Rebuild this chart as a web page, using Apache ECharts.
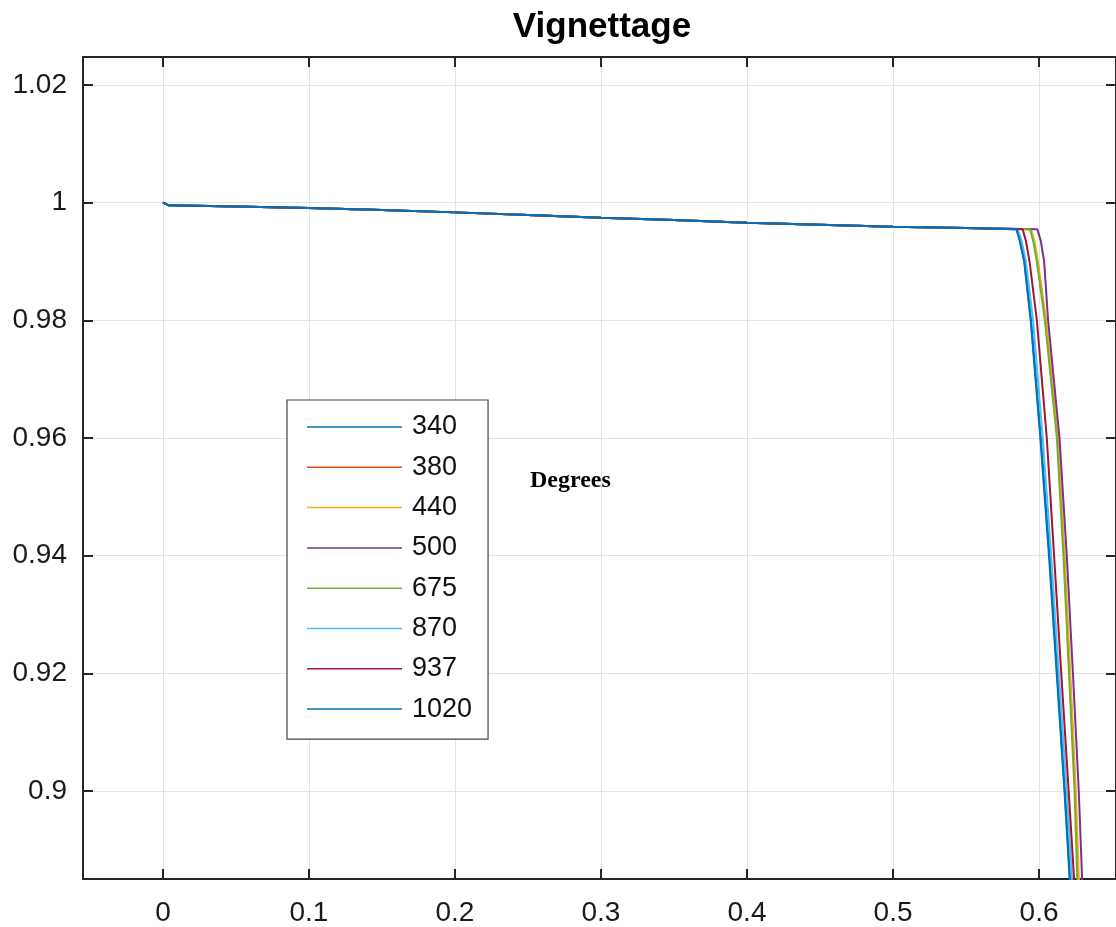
<!DOCTYPE html>
<html>
<head>
<meta charset="utf-8">
<script src="https://cdn.jsdelivr.net/npm/echarts@6/dist/echarts.min.js"></script>
<style>
  html, body { margin: 0; padding: 0; background: #fff; }
  #chart { width: 1116px; height: 927px; }
</style>
</head>
<body>
<div id="chart"></div>
<script>
// x ticks / y ticks as drawn on the figure
const xTicks = [0, 0.1, 0.2, 0.3, 0.4, 0.5, 0.6]
const yTicks = [0.9, 0.92, 0.94, 0.96, 0.98, 1, 1.02]

// common slow fall-off shared by every wavelength
const flatX = [0, 0.004, 0.05, 0.1, 0.15, 0.2, 0.25, 0.3, 0.35, 0.4, 0.45, 0.5, 0.55]
const flatY = [1.0, 0.99955, 0.99935, 0.9991, 0.99875, 0.99835, 0.9979, 0.99745, 0.99705, 0.9966, 0.99625, 0.99592, 0.9957]

// steep edge: y levels and the x where each curve crosses them
const dropY = [0.9955, 0.9935, 0.99, 0.98, 0.96, 0.94, 0.92, 0.90, 0.885, 0.87]
const drop340 = [0.5847, 0.5870, 0.5900, 0.5945, 0.6012, 0.6072, 0.6124, 0.6177, 0.6212, 0.6252]
const drop380 = [0.5942, 0.5964, 0.5989, 0.6044, 0.6126, 0.6171, 0.6210, 0.6248, 0.6268, 0.6300]
const drop440 = [0.5946, 0.5968, 0.5993, 0.6048, 0.6130, 0.6175, 0.6214, 0.6252, 0.6273, 0.6305]
const drop500 = [0.5988, 0.6012, 0.6035, 0.6062, 0.6140, 0.6190, 0.6232, 0.6272, 0.6295, 0.6325]
const drop675 = [0.5938, 0.5960, 0.5985, 0.6040, 0.6122, 0.6167, 0.6205, 0.6243, 0.6262, 0.6295]
const drop870 = [0.5852, 0.5880, 0.5910, 0.5959, 0.6025, 0.6083, 0.6135, 0.6189, 0.6225, 0.6265]
const drop937 = [0.5888, 0.5910, 0.5935, 0.5985, 0.6053, 0.6103, 0.6152, 0.6203, 0.6240, 0.6278]
const drop1020 = [0.5845, 0.5868, 0.5898, 0.5943, 0.6009, 0.6068, 0.6121, 0.6174, 0.6210, 0.6250]

const names = ['340', '380', '440', '500', '675', '870', '937', '1020']
const drops = [drop340, drop380, drop440, drop500, drop675, drop870, drop937, drop1020]
const colors = ['#0072BD', '#D95319', '#EDB120', '#7E2F8E', '#77AC30', '#4DBEEE', '#A2142F', '#0072BD']

const AXIS_COLOR = '#262626'
const FONT = '"Liberation Sans", Arial, Helvetica, sans-serif'

const buildData = (dropX) => {
  const pts = flatX.map((x, i) => [x, flatY[i]])
  dropX.forEach((x, i) => pts.push([x, dropY[i]]))
  return pts
}

const xRange = { min: -0.05473, max: 0.6527 }
const yRange = { min: 0.88504, max: 1.02476 }

const axisLine = { show: true, onZero: false, lineStyle: { color: AXIS_COLOR, width: 2 } }
const tickStyle = (values) => ({
  show: true,
  inside: true,
  length: 10,
  customValues: values,
  lineStyle: { color: AXIS_COLOR, width: 2 }
})

const chart = echarts.init(document.getElementById('chart'))

chart.setOption({
  animation: false,
  backgroundColor: '#ffffff',
  grid: { left: 83, top: 57, width: 1034, height: 822, containLabel: false },
  xAxis: [
    {
      type: 'value',
      position: 'bottom',
      ...xRange,
      axisLine,
      axisTick: tickStyle(xTicks),
      axisLabel: {
        customValues: xTicks,
        color: '#1a1a1a',
        fontSize: 28,
        fontFamily: FONT,
        margin: 20
      },
      splitLine: { show: true, lineStyle: { color: '#e3e3e3', width: 1 } }
    },
    {
      type: 'value',
      position: 'top',
      ...xRange,
      axisLine,
      axisTick: tickStyle(xTicks),
      axisLabel: { show: false },
      splitLine: { show: false }
    }
  ],
  yAxis: [
    {
      type: 'value',
      position: 'left',
      ...yRange,
      axisLine,
      axisTick: tickStyle(yTicks),
      axisLabel: {
        customValues: yTicks,
        color: '#1a1a1a',
        fontSize: 28,
        fontFamily: FONT,
        margin: 16
      },
      splitLine: { show: true, lineStyle: { color: '#e3e3e3', width: 1 } }
    },
    {
      type: 'value',
      position: 'right',
      ...yRange,
      axisLine,
      axisTick: tickStyle(yTicks),
      axisLabel: { show: false },
      splitLine: { show: false }
    }
  ],
  legend: {
    orient: 'vertical',
    left: 287,
    top: 400,
    icon: 'rect',
    itemWidth: 95,
    itemHeight: 1.5,
    itemGap: 10.3,
    selectedMode: false,
    padding: [12, 16, 15, 20],
    backgroundColor: '#ffffff',
    borderColor: '#444444',
    borderWidth: 1.2,
    textStyle: {
      color: '#111111',
      fontSize: 27,
      lineHeight: 30,
      fontFamily: FONT,
      padding: [0, 0, 0, 5]
    },
    data: names
  },
  graphic: [
    {
      type: 'text',
      x: 602,
      y: 27,
      style: {
        text: 'Vignettage',
        align: 'center',
        verticalAlign: 'middle',
        fill: '#000000',
        font: 'bold 35px ' + FONT
      }
    },
    {
      type: 'text',
      x: 530,
      y: 481,
      z: 10,
      style: {
        text: 'Degrees',
        align: 'left',
        verticalAlign: 'middle',
        fill: '#000000',
        font: 'bold 24px "Liberation Serif", "DejaVu Serif", serif'
      }
    }
  ],
  series: names.map((name, i) => ({
    name,
    type: 'line',
    xAxisIndex: 0,
    yAxisIndex: 0,
    showSymbol: false,
    symbol: 'none',
    clip: true,
    color: colors[i],
    lineStyle: { color: colors[i], width: 2 },
    data: buildData(drops[i])
  }))
})
</script>
</body>
</html>
